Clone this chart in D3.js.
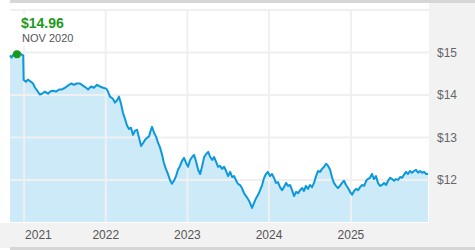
<!DOCTYPE html>
<html>
<head>
<meta charset="utf-8">
<script src="https://cdn.jsdelivr.net/npm/d3@7"></script>
<style>
  body { margin: 0; background: #fff; }
  svg { display: block; font-family: Arial, "Liberation Sans", sans-serif; }
</style>
</head>
<body>
<svg width="475" height="250"></svg>
<script>
// price history (date, NAV)
var dates = [
  "2020-10-30","2020-11-06","2020-11-13","2020-11-20","2020-11-30","2020-12-07","2020-12-14","2020-12-21","2020-12-28","2020-12-30",
  "2021-01-09","2021-01-18","2021-02-01","2021-02-10","2021-02-19","2021-03-01","2021-03-12","2021-03-22","2021-04-04","2021-04-18",
  "2021-04-27","2021-05-10","2021-05-24","2021-06-06","2021-06-19","2021-07-03","2021-07-16","2021-07-30","2021-08-12","2021-08-25",
  "2021-09-08","2021-09-21","2021-10-05","2021-10-14","2021-10-27","2021-11-09","2021-11-23","2021-12-06","2021-12-20","2022-01-03",
  "2022-01-11","2022-01-20","2022-02-02","2022-02-11","2022-02-20","2022-03-01","2022-03-10","2022-03-19","2022-03-28","2022-04-06",
  "2022-04-15","2022-04-24","2022-05-03","2022-05-12","2022-05-21","2022-05-30","2022-06-08","2022-06-17","2022-06-25","2022-07-04",
  "2022-07-13","2022-07-22","2022-07-27","2022-08-05","2022-08-14","2022-08-23","2022-09-01","2022-09-10","2022-09-18","2022-09-27",
  "2022-10-06","2022-10-15","2022-10-24","2022-11-02","2022-11-11","2022-11-20","2022-11-29","2022-12-08","2022-12-17","2022-12-26",
  "2023-01-04","2023-01-13","2023-01-22","2023-01-31","2023-02-09","2023-02-18","2023-02-27","2023-03-08","2023-03-17","2023-03-26",
  "2023-04-04","2023-04-13","2023-04-22","2023-04-30","2023-05-09","2023-05-18","2023-05-27","2023-06-05","2023-06-14","2023-06-23",
  "2023-07-02","2023-07-11","2023-07-20","2023-07-29","2023-08-07","2023-08-15","2023-08-24","2023-09-02","2023-09-11","2023-09-20",
  "2023-09-29","2023-10-08","2023-10-17","2023-10-26","2023-11-04","2023-11-13","2023-11-22","2023-12-01","2023-12-10","2023-12-18",
  "2023-12-27","2024-01-05","2024-01-14","2024-01-23","2024-02-01","2024-02-10","2024-02-19","2024-02-28","2024-03-08","2024-03-17",
  "2024-03-26","2024-04-04","2024-04-13","2024-04-22","2024-05-01","2024-05-10","2024-05-19","2024-05-28","2024-06-05","2024-06-14",
  "2024-06-23","2024-07-02","2024-07-11","2024-07-20","2024-07-29","2024-08-07","2024-08-16","2024-08-25","2024-09-03","2024-09-12",
  "2024-09-21","2024-09-30","2024-10-09","2024-10-17","2024-10-26","2024-11-04","2024-11-13","2024-11-22","2024-12-01","2024-12-10",
  "2024-12-19","2024-12-28","2025-01-06","2025-01-15","2025-01-24","2025-02-02","2025-02-11","2025-02-20","2025-03-01","2025-03-10",
  "2025-03-18","2025-03-27","2025-04-05","2025-04-14","2025-04-23","2025-05-02","2025-05-11","2025-05-20","2025-05-29","2025-06-07",
  "2025-06-16","2025-06-25","2025-07-04","2025-07-13","2025-07-22","2025-07-31","2025-08-09","2025-08-17","2025-08-26","2025-09-04",
  "2025-09-13","2025-09-22","2025-10-01","2025-10-10","2025-10-19","2025-10-28","2025-11-06","2025-11-15","2025-11-24","2025-12-03",
  "2025-12-12"
];

var prices = [
  14.93,14.88,14.95,14.92,14.96,14.99,14.98,14.95,14.93,14.36,
  14.31,14.36,14.31,14.27,14.17,14.10,14.01,14.03,14.08,14.03,
  14.08,14.10,14.08,14.13,14.13,14.17,14.22,14.27,14.24,14.27,
  14.27,14.22,14.17,14.13,14.20,14.17,14.24,14.20,14.17,14.15,
  14.08,13.96,13.91,13.82,13.87,13.96,13.80,13.58,13.44,13.28,
  13.20,13.23,13.06,13.16,13.18,12.99,12.80,12.87,12.94,12.99,
  13.02,13.18,13.25,13.11,13.02,12.87,12.76,12.59,12.40,12.26,
  12.14,12.00,11.91,11.98,12.09,12.24,12.33,12.45,12.52,12.40,
  12.31,12.47,12.54,12.59,12.43,12.24,12.14,12.33,12.54,12.61,
  12.66,12.54,12.47,12.54,12.43,12.31,12.33,12.26,12.31,12.21,
  12.09,12.19,12.07,12.09,11.98,11.91,11.88,11.81,11.69,11.62,
  11.55,11.46,11.34,11.46,11.57,11.65,11.76,11.88,12.05,12.14,
  12.19,12.09,12.14,12.05,11.93,11.95,11.83,11.76,11.83,11.93,
  11.86,11.88,11.76,11.62,11.72,11.69,11.76,11.81,11.74,11.86,
  11.79,11.88,11.83,11.93,12.09,12.21,12.19,12.26,12.31,12.38,
  12.33,12.24,12.05,11.93,11.86,11.81,11.86,11.93,11.98,11.88,
  11.81,11.72,11.65,11.74,11.79,11.76,11.83,11.88,11.86,11.98,
  12.02,12.05,12.14,12.02,12.09,11.93,11.86,11.88,11.93,11.88,
  11.98,12.05,12.02,11.98,12.02,12.00,12.07,12.05,12.12,12.19,
  12.14,12.21,12.17,12.21,12.24,12.17,12.21,12.17,12.19,12.14,
  12.14
];

var yearTicks = ["2021-01-01","2022-01-01","2023-01-01","2024-01-01","2025-01-01"];
var priceTicks = [12, 13, 14, 15, 16];
var priceLabels = [12, 13, 14, 15];

var highlight = {date: "2020-11-30", price: 14.96, label: "NOV 2020"};

var parse = d3.timeParse("%Y-%m-%d");
var data = dates.map((d, i) => ({date: parse(d), price: prices[i]}));

var plot = {left: 10, right: 429, top: 10, bottom: 222};

var x = d3.scaleTime()
    .domain([parse("2020-10-30"), parse("2025-12-16")])
    .range([plot.left, plot.right]);

var y = d3.scaleLinear()
    .domain([11.01, 16])
    .range([plot.bottom, plot.top]);

var svg = d3.select("svg");

// frame panels
svg.append("rect").attr("x", 10).attr("y", 0).attr("width", 465).attr("height", 3).attr("fill", "#d6d6d6");
svg.append("rect").attr("x", plot.right).attr("y", 3).attr("width", 475 - plot.right).attr("height", plot.bottom - 2).attr("fill", "#f2f2f2");
svg.append("rect").attr("x", 0).attr("y", plot.bottom + 1).attr("width", 475).attr("height", 25).attr("fill", "#f2f2f2");
svg.append("rect").attr("x", 10).attr("y", 247).attr("width", 465).attr("height", 3).attr("fill", "#d6d6d6");

var area = d3.area()
    .x(d => x(d.date))
    .y0(plot.bottom)
    .y1(d => y(d.price));

var line = d3.line()
    .x(d => x(d.date))
    .y(d => y(d.price));

svg.append("path")
    .datum(data)
    .attr("fill", "#cceaf7")
    .attr("d", area);

// grid
svg.append("g")
    .selectAll("line")
    .data(priceTicks)
  .enter().append("line")
    .attr("x1", plot.left)
    .attr("x2", plot.right)
    .attr("y1", d => y(d))
    .attr("y2", d => y(d))
    .attr("stroke", "#f0f0f0")
    .attr("stroke-width", 2);

svg.append("g")
    .selectAll("line")
    .data(yearTicks.map(parse))
  .enter().append("line")
    .attr("x1", d => x(d))
    .attr("x2", d => x(d))
    .attr("y1", plot.top)
    .attr("y2", plot.bottom)
    .attr("stroke", "#f0f0f0")
    .attr("stroke-width", 2);

svg.append("path")
    .datum(data)
    .attr("fill", "none")
    .attr("stroke", "#0b98dc")
    .attr("stroke-width", 2)
    .attr("stroke-linejoin", "round")
    .attr("d", line);

// axis labels
svg.append("g")
    .selectAll("text")
    .data(priceLabels)
  .enter().append("text")
    .attr("x", 437)
    .attr("y", d => y(d) + 4.5)
    .attr("font-size", 12)
    .attr("fill", "#666")
    .text(d => "$" + d);

svg.append("g")
    .selectAll("text")
    .data(yearTicks.map(parse))
  .enter().append("text")
    .attr("x", (d, i) => i == 0 ? x(d) + 1 : x(d))
    .attr("y", 239)
    .attr("text-anchor", (d, i) => i == 0 ? "start" : "middle")
    .attr("font-size", 12)
    .attr("fill", "#555")
    .text(d => d3.timeFormat("%Y")(d));

// highlighted point + readout
svg.append("rect").attr("x", 18).attr("y", 14).attr("width", 52).attr("height", 32).attr("fill", "#fff");

svg.append("text")
    .attr("x", 21)
    .attr("y", 28)
    .attr("font-size", 14)
    .attr("font-weight", "bold")
    .attr("fill", "#1d9a1d")
    .text("$" + highlight.price.toFixed(2));

svg.append("text")
    .attr("x", 22)
    .attr("y", 42)
    .attr("font-size", 11)
    .attr("fill", "#555")
    .text(highlight.label);

svg.append("circle")
    .attr("cx", x(parse(highlight.date)))
    .attr("cy", y(highlight.price))
    .attr("r", 4)
    .attr("fill", "#1a9a1a");
</script>
</body>
</html>
